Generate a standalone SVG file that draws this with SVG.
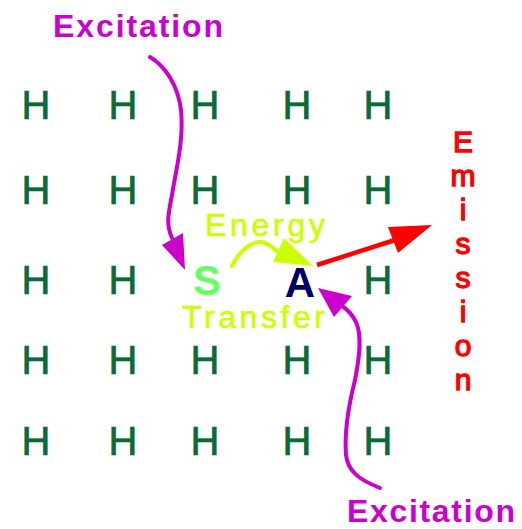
<svg xmlns="http://www.w3.org/2000/svg" width="522" height="529" viewBox="0 0 522 529">
<style>
.h{font-family:"Liberation Sans",Arial,sans-serif;font-size:40px;fill:#0a6a38;stroke:#0a6a38;stroke-width:0.7;text-anchor:middle}
.exc{font-family:"Liberation Sans",Arial,sans-serif;font-size:32px;font-weight:bold;fill:#cc00cc}
.em{font-family:"Liberation Sans",Arial,sans-serif;font-size:30px;fill:#ff0000;stroke:#ff0000;stroke-width:1.3;text-anchor:middle}
.et{font-family:"Liberation Sans",Arial,sans-serif;font-size:32px;fill:#ccff00;stroke:#ccff00;stroke-width:0.6}
.big{font-family:"Liberation Sans",Arial,sans-serif;font-size:42px;font-weight:bold;text-anchor:middle}
.mag{fill:none;stroke:#cc00cc;stroke-width:4;stroke-linecap:round}
</style>
<rect width="522" height="529" fill="#ffffff"/>
<g id="lattice">
<text class="h" x="36" y="119">H</text><text class="h" x="123" y="119">H</text><text class="h" x="205" y="119">H</text><text class="h" x="297" y="119">H</text><text class="h" x="378" y="119">H</text>
<text class="h" x="36" y="204">H</text><text class="h" x="123" y="204">H</text><text class="h" x="205" y="204">H</text><text class="h" x="297" y="204">H</text><text class="h" x="378" y="204">H</text>
<text class="h" x="36" y="294">H</text><text class="h" x="123" y="294">H</text><text class="h" x="378" y="294">H</text>
<text class="h" x="36" y="374">H</text><text class="h" x="123" y="374">H</text><text class="h" x="205" y="374">H</text><text class="h" x="297" y="374">H</text><text class="h" x="378" y="374">H</text>
<text class="h" x="36" y="455">H</text><text class="h" x="123" y="455">H</text><text class="h" x="205" y="455">H</text><text class="h" x="297" y="455">H</text><text class="h" x="378" y="455">H</text>
</g>
<g id="S"><text class="big" x="207" y="295" fill="#66ff66">S</text></g>
<g id="A"><text class="big" x="300" y="297" fill="#000066">A</text></g>
<g id="excitation-top"><text class="exc" x="53" y="37" textLength="170" lengthAdjust="spacing">Excitation</text></g>
<g id="excitation-bottom"><text class="exc" x="347" y="522" textLength="168" lengthAdjust="spacing">Excitation</text></g>
<g id="energy-transfer">
<text class="et" x="205" y="236" textLength="120" lengthAdjust="spacing">Energy</text>
<text class="et" x="182" y="328" textLength="143" lengthAdjust="spacing">Transfer</text>
</g>
<g id="emission">
<text class="em"><tspan x="463" y="152">E</tspan><tspan x="463" y="186">m</tspan><tspan x="463" y="220">i</tspan><tspan x="463" y="254">s</tspan><tspan x="463" y="288">s</tspan><tspan x="463" y="322">i</tspan><tspan x="463" y="356">o</tspan><tspan x="463" y="390">n</tspan></text>
</g>
<g id="connectors">
<path class="mag" d="M150,57 C165,66 178,85 181,110 C184,140 176,170 172,195 C168,215 166,225 172,238"/>
<polygon points="162,245 183,233 185,270" fill="#cc00cc"/>
<path d="M232,266 C240,250 252,241 262,242 C270,244 276,250 280,254" fill="none" stroke="#ccff00" stroke-width="4" stroke-linecap="round"/>
<polygon points="273,262 284,238 313,266" fill="#ccff00"/>
<path d="M317,265 L395,240" fill="none" stroke="#ff0000" stroke-width="4.5"/>
<polygon points="388,227 398,253 432,225" fill="#ff0000"/>
<path class="mag" d="M380,488 C360,480 348,472 346,455 C344,430 350,400 355,380 C360,355 362,335 356,322 C352,314 348,310 342,306"/>
<polygon points="318,288 352,296 334,317" fill="#cc00cc"/>
</g>
</svg>
